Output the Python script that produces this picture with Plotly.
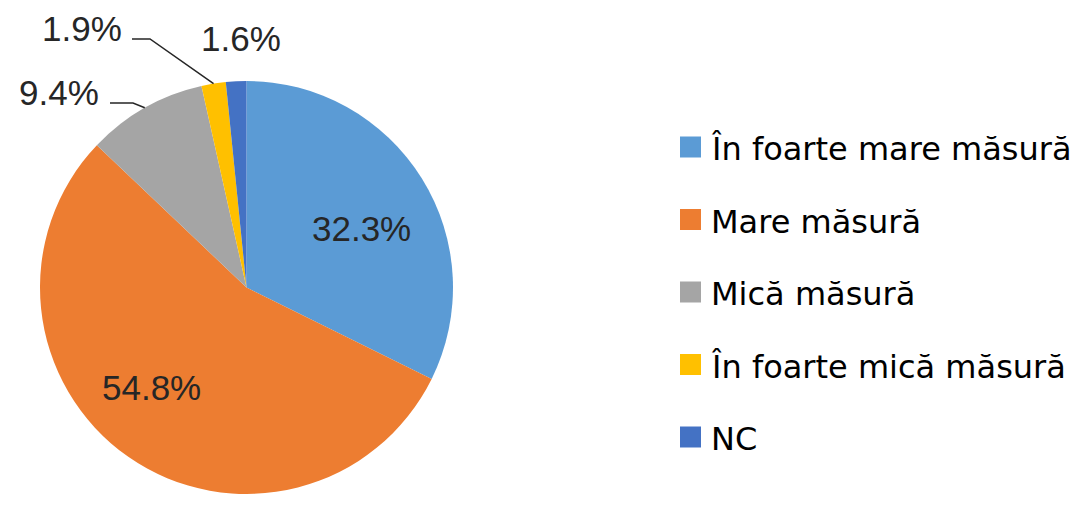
import math
import plotly.graph_objects as go

# ---- data ----
labels = ["În foarte mare măsură", "Mare măsură", "Mică măsură", "În foarte mică măsură", "NC"]
values = [32.3, 54.8, 9.4, 1.9, 1.6]
pct_text = ["32.3%", "54.8%", "9.4%", "1.9%", "1.6%"]
colors = ["#5B9BD5", "#ED7D31", "#A5A5A5", "#FFC000", "#4472C4"]

# ---- layout constants (pixels, in window coordinates) ----
W, H = 1081, 505
OFF = 8  # page body margin
FW, FH = W - OFF, H - OFF
CX, CY, R = 246.5, 287.5, 206.5
# label centres (px) and leader-line elbow points (None = no leader)
label_pos = [(361, 228), (151, 387), (59, 92), (82, 29), (241, 39)]
leader = [None, None, [(110, 103), (133, 103)], [(132, 39), (150, 39)], None]


def px(x, y):
    return (x - OFF) / FW, 1 - (y - OFF) / FH


dx0, dy1 = px(CX - R, CY - R)
dx1, dy0 = px(CX + R, CY + R)

fig = go.Figure(go.Pie(
    labels=labels, values=values, sort=False, direction="clockwise", rotation=0,
    marker=dict(colors=colors, line=dict(width=0)),
    textinfo="none", hoverinfo="label+percent", showlegend=False,
    domain=dict(x=[dx0, dx1], y=[dy0, dy1]),
))

annotations = []
shapes = []
total = sum(values)
cum = 0.0
for i, v in enumerate(values):
    mid = (cum + v / 2) / total * 2 * math.pi
    cum += v
    lx, ly = label_pos[i]
    x, y = px(lx, ly)
    annotations.append(dict(x=x, y=y, xref="paper", yref="paper", text=pct_text[i],
                            showarrow=False, xanchor="center", yanchor="middle",
                            font=dict(family="Liberation Sans", size=35, color="#262626")))
    if leader[i] is not None:
        ex = CX + R * math.sin(mid)
        ey = CY - R * math.cos(mid)
        pts = leader[i] + [(ex, ey)]
        path = "M " + " L ".join(f"{px(a, b)[0]},{px(a, b)[1]}" for a, b in pts)
        shapes.append(dict(type="path", path=path, xref="paper", yref="paper",
                           line=dict(color="#262626", width=1.5)))

# manual legend
leg_x0, leg_y0, leg_dy, sw = 680, 147, 72.5, 21
for i, lab in enumerate(labels):
    yc = leg_y0 + i * leg_dy
    x0, y0 = px(leg_x0, yc - sw / 2)
    x1, y1 = px(leg_x0 + sw, yc + sw / 2)
    shapes.append(dict(type="rect", xref="paper", yref="paper", x0=x0, x1=x1, y0=y1, y1=y0,
                       fillcolor=colors[i], line=dict(width=0)))
    tx, ty = px(709, yc + 2)
    annotations.append(dict(x=tx, y=ty, xref="paper", yref="paper", text=lab, showarrow=False,
                            xanchor="left", yanchor="middle",
                            font=dict(family="DejaVu Sans", size=32, color="#000000")))

fig.update_layout(
    width=FW, height=FH, margin=dict(l=0, r=0, t=0, b=0),
    paper_bgcolor="white", plot_bgcolor="white",
    annotations=annotations, shapes=shapes,
)
fig.write_html("out.html")
